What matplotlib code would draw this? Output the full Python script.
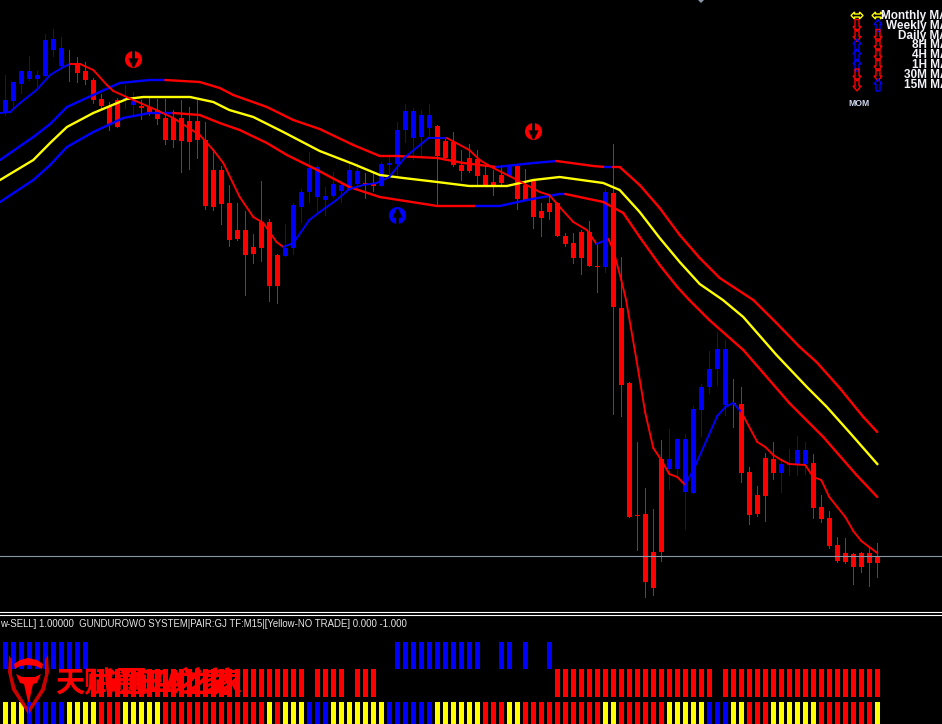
import matplotlib
matplotlib.use("Agg")
import matplotlib.pyplot as plt
from matplotlib.patches import Polygon

candle_dir = list("b" * 8 + "r" * 7 + "b" * 2 + "r" * 18 + "b" * 10 + "r" * 2 + "b" * 7 + "r" * 9 + "b"
                  + "r" * 11 + "b" + "r" * 7 + "b" * 8 + "r" * 6 + "b" * 4 + "r" * 9)
candle_high = [75,82,70,56,71,34,29,37,50,57,62,78,94,102,98,85,92,100,98,99,
               99,110,100,107,100,122,151,166,185,203,211,234,181,219,254,224,203,189,152,165,
               187,172,180,162,163,173,173,162,155,122,104,108,110,104,125,137,132,150,144,150,
               165,170,165,164,165,169,180,203,194,202,233,233,230,221,244,188,144,257,382,442,
               488,509,440,429,438,434,406,384,351,332,340,379,387,467,486,453,442,460,449,436,
               442,454,495,511,537,538,553,552,548,543]
body_top =    [100,82,71,71,75,40,39,48,64,63,71,80,99,106,100,98,101,106,107,110,
               118,118,118,121,121,140,170,170,203,230,230,247,222,222,255,248,205,192,168,167,
               196,184,185,170,171,183,184,164,163,130,111,111,115,115,126,141,142,165,158,159,
               175,182,175,166,166,185,181,211,203,203,236,243,232,232,266,192,193,308,383,515,
               514,552,459,459,439,439,409,387,369,349,349,403,404,472,495,458,459,464,464,450,
               450,463,507,518,545,553,554,553,553,556]
body_bot =    [113,101,84,79,79,76,50,66,65,73,80,100,106,125,127,99,105,108,112,119,
               140,140,141,142,140,206,207,204,240,239,255,254,248,286,286,256,248,207,192,197,
               200,196,191,190,184,184,186,186,165,164,130,138,137,128,156,158,165,171,171,176,
               185,185,183,176,199,200,217,218,212,236,244,258,258,266,267,267,307,385,517,516,
               582,588,552,469,469,492,493,410,387,369,405,404,473,515,514,496,473,473,465,465,
               464,508,519,546,561,562,567,567,563,563]
candle_low =  [115,107,93,80,87,76,56,66,81,82,84,103,108,130,127,108,116,119,115,124,
               144,147,172,169,158,209,210,224,246,240,295,263,261,301,303,256,254,222,202,212,
               215,197,202,190,185,198,191,186,176,176,142,159,155,137,205,160,166,180,172,185,
               185,195,184,176,209,200,228,236,219,236,246,263,274,266,292,272,414,416,517,550,
               597,595,561,489,477,529,493,436,393,385,415,427,482,524,516,521,479,492,475,475,
               474,518,522,548,562,563,584,572,586,577]

upper_idx = [-0.66,3.5,5.6,7.7,11.8,14.3,18,20,24.3,26.8,28.5,32.7,36,39.3,43.5,46.8,48.9,54,57.25,
             61.4,66,68.9,73.5,75,76,76.8,79.3,81.8,84.3,86.8,89.3,93.5,96.4,99.3,101.4,104.3,107.25,109]
upper_val = [160,137,124,107,92,83,80,80,82,88,95,107,120,129,145,156,156,158,163,
             167,163,161,166,167,167,167,185,208,235,258,278,300,323,347,362,388,417,432]
upper_col = ['b']*7 + ['r']*12 + ['b']*2 + ['r']*2 + ['b'] + ['r']*13

mid_idx = [-0.66,3.5,5.6,7.7,11,15.2,17.25,23.1,26,28,31,34.75,39.3,43.5,46.8,49.75,54,58,62.7,66,
           69.3,74.75,76.8,79.3,81.8,84.3,86.8,89.7,92.25,96.4,100.2,102.7,105.6,109]
mid_val = [180,160,143,127,113,99,97,97,102,110,117,132,151,164,175,178,182,186,186,180,
           177,183,190,212,238,262,284,300,317,355,387,407,433,464]

lower_idx = [-0.66,3.5,5.6,7.7,11,14.75,18,21,24.3,26.8,29.3,32.7,35.2,39,43,46.8,54,58,58.9,61.8,65.2,
             69.3,70,74.75,77.25,79.3,81.8,84,85.5,88,92.25,94.75,98,102.25,106.4,109]
lower_val = [202,180,165,147,132,118,113,113,115,123,130,143,155,170,187,197,206,206,206,206,200,
             194,194,202,213,237,265,287,300,320,350,373,403,437,475,497]
lower_col = ['b']*7 + ['r']*11 + ['b']*4 + ['r']*13

fast_idx = [-0.66,0.6,1.84,3.9,5.6,7.25,8.1,9.34,11,12.7,13.5,16,18.9,21,24.3,26,27.25,29.3,31,32.25,33.9,34.75,
            36,38,39.3,41.4,43,44.75,46.4,48,50,52.9,55.2,58,59.3,61,64,66.8,68,69.3,71,72.7,73.9,75.4,
            76,77,77.6,78.9,80,81,82,83,84,85,86,89,90,91,92,94,95,96,97,98,100,101,102,103,104,105,106,107,108,109]
fast_val = [113,112,103,90,75,67,64,64,70,85,91,100,110,118,135,150,163,197,217,223,242,247,
            243,220,212,200,189,185,183,177,157,138,138,150,160,168,180,192,195,207,222,230,244,239,
            250,280,300,360,413,448,460,474,477,485,470,416,407,403,412,442,447,455,460,464,465,477,480,497,507,517,531,541,547,553]
fast_col = ['b']*6 + ['r']*15 + ['b']*11 + ['r']*10 + ['b'] + ['r']*10 + ['b']*5 + ['r']*18

current_price = 556

signal_idx = [16, 49, 66]
signal_val = [58.5, 215, 131]
signal_dir = ['r', 'b', 'r']

row1_blue = list(range(0, 11)) + list(range(49, 60)) + [62, 63, 65, 68]
row2_red = list(range(11, 38)) + [39, 40, 41, 42, 44, 45, 46] + list(range(69, 89)) + list(range(90, 110))
row3 = ("Y"*3 + "B"*5 + "Y"*4 + "R"*3 + "Y"*5 + "R"*13 + "Y" + "R" + "Y"*3 + "B"*3 + "Y"*7 + "B"*6 + "Y"*6
        + "R"*3 + "Y"*2 + "R"*10 + "Y"*2 + "R"*6 + "Y"*5 + "B"*3 + "Y"*2 + "R"*3 + "Y"*6 + "R"*7 + "Y")

legend_names = ["Monthly MA", "Weekly MA", "Daily MA", "8H MA", "4H MA", "1H MA", "30M MA", "15M MA"]
legend_left = ['y', 'r', 'r', 'b', 'b', 'b', 'r', 'r']
legend_right = ['y', 'b', 'r', 'r', 'r', 'r', 'r', 'b']
status_text = "w-SELL] 1.00000  GUNDUROWO SYSTEM|PAIR:GJ TF:M15|[Yellow-NO TRADE] 0.000 -1.000"

# ---------- style ----------
RED, BLUE, YEL = "#ff0000", "#0000ff", "#ffff00"
cmap = {'r': RED, 'b': BLUE, 'y': YEL, 'Y': YEL, 'R': RED, 'B': BLUE}
W, H = 942, 724
PANEL_TOP = 612
x_left, x_right = -0.6625, 117.09
BAR_W = 0.68

fig = plt.figure(figsize=(W / 100, H / 100), dpi=100, facecolor="black")
ax = fig.add_axes([0, 1 - PANEL_TOP / H, 1, PANEL_TOP / H])
ax.set_facecolor("black")
ax.set_xlim(x_left, x_right)
ax.set_ylim(PANEL_TOP, 0)
ax.axis("off")

n = len(candle_high)
xs = list(range(n))
cols = [cmap[c] for c in candle_dir]
ax.vlines(xs, candle_high, candle_low, colors=cols, linewidth=0.72, antialiased=False, zorder=2)
bars = ax.bar(xs, [max(b - t, 1) for t, b in zip(body_top, body_bot)], bottom=body_top, width=BAR_W,
              color=cols, linewidth=0, zorder=3)
for r in bars:
    r.set_snap(True)


def seg_line(idx, val, colors, lw):
    for k in range(len(idx) - 1):
        ax.plot(idx[k:k + 2], val[k:k + 2], color=cmap[colors[k]], lw=lw,
                solid_capstyle="round", zorder=5)


seg_line(upper_idx, upper_val, upper_col, 1.7)
seg_line(lower_idx, lower_val, lower_col, 1.7)
ax.plot(mid_idx, mid_val, color=YEL, lw=1.7, zorder=5)
seg_line(fast_idx, fast_val, fast_col, 1.35)

ax.axhline(current_price, color="#8a97a6", lw=0.8, zorder=6)

for i, v, d in zip(signal_idx, signal_val, signal_dir):
    ax.scatter([i], [v], s=150, color=cmap[d], linewidths=0, zorder=7)
    if d == 'r':
        ax.plot([i, i], [v - 8, v + 2], color="black", lw=2, zorder=8)
        ax.scatter([i], [v + 4], s=55, marker="v", color="black", linewidths=0, zorder=8)
    else:
        ax.plot([i, i], [v + 8, v - 1], color="black", lw=2, zorder=8)
        ax.scatter([i], [v - 3], s=55, marker="^", color="black", linewidths=0, zorder=8)

# indicator panel
pax = fig.add_axes([0, 0, 1, (H - 615) / H])
pax.set_facecolor("black")
pax.set_xlim(x_left, x_right)
pax.set_ylim(H, 615)
pax.axis("off")
panel_bars = []
panel_bars += list(pax.bar(row1_blue, 27, bottom=642, width=BAR_W, color=BLUE, linewidth=0))
panel_bars += list(pax.bar(row2_red, 28, bottom=669, width=BAR_W, color=RED, linewidth=0))
panel_bars += list(pax.bar(range(len(row3)), 22, bottom=702, width=BAR_W, color=[cmap[c] for c in row3],
                           linewidth=0))
for r in panel_bars:
    r.set_snap(True)

# overlay: separators, texts, watermark, legend arrows
ov = fig.add_axes([0, 0, 1, 1], facecolor="none")
ov.set_xlim(0, W)
ov.set_ylim(H, 0)
ov.axis("off")
ov.axhline(612, color="white", lw=0.8)
ov.axhline(614.5, color="white", lw=0.8)
ov.text(0, 624, status_text, color="#e6e6e6", fontsize=6.9, family="Liberation Sans", va="center", ha="left")
ov.add_patch(Polygon([(698, 0), (704, 0), (701, 3)], color="#8a97a6", lw=0))


def legend_arrow(x, y, c):
    if c == 'y':
        pts = [(x-6, y), (x-2.5, y-3.5), (x-2.5, y-1.5), (x+2.5, y-1.5), (x+2.5, y-3.5), (x+6, y),
               (x+2.5, y+3.5), (x+2.5, y+1.5), (x-2.5, y+1.5), (x-2.5, y+3.5)]
    else:
        s = -1 if c == 'b' else 1
        pts = [(x-2, y-s*6), (x+2, y-s*6), (x+2, y+s*1), (x+4, y+s*1), (x, y+s*6),
               (x-4, y+s*1), (x-2, y+s*1)]
    ov.add_patch(Polygon(pts, closed=True, facecolor="none", edgecolor=cmap[c], lw=1.0))


for k, name in enumerate(legend_names):
    y = 15.5 + 10 * k - (0.5 if k > 2 else 0)
    ov.text(948, y, name, color="#f2f2f8", fontsize=8.5, family="Liberation Sans", weight="bold",
            va="center", ha="right")
    legend_arrow(857, y, legend_left[k])
    legend_arrow(878, y, legend_right[k])
ov.text(848, 104, "MOM", color="#cfd8f0", fontsize=6.2, family="Liberation Sans", weight="bold",
        va="center", ha="left")

# watermark
DK = "#c80000"
for pts, c in (
    ([(9, 655), (8, 672), (12, 690), (28, 714), (28, 708), (16, 689), (12, 675), (12, 660)], DK),
    ([(48, 655), (49, 672), (45, 690), (29, 714), (29, 708), (41, 689), (45, 675), (45, 660)], DK),
    ([(14, 664), (20, 660), (28, 658), (37, 660), (43, 664), (42, 669), (36, 666), (28, 665), (20, 666), (15, 669)], RED),
    ([(16, 674), (22, 677), (35, 677), (41, 674), (37, 683), (33, 684), (29, 702), (28, 702), (24, 684), (20, 683)], RED),
):
    ov.add_patch(Polygon(pts, color=c, lw=0))
wm_font = dict(color=RED, family=["Noto Sans CJK SC", "DejaVu Sans"], weight="bold", va="center", ha="left")
ov.text(55, 683, "天赋", fontsize=21, **wm_font)
ov.text(106, 683, "通EA之家", fontsize=21, **wm_font)
ov.text(118, 683, "通EA之家", fontsize=21, **wm_font)

fig.savefig("out.png", dpi=100, facecolor="black")
